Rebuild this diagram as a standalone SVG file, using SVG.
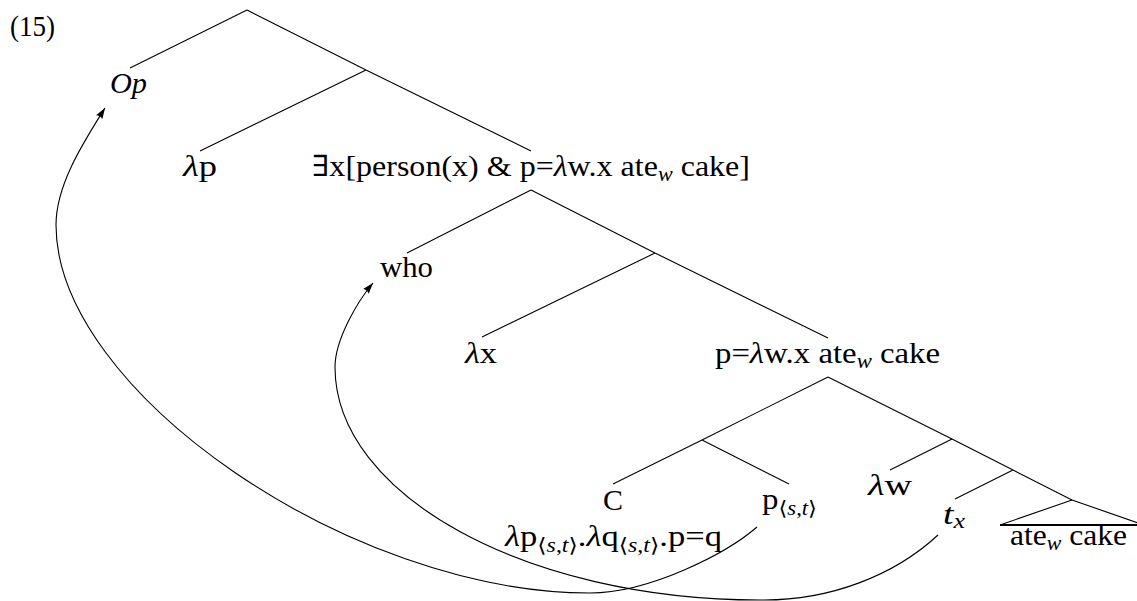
<svg xmlns="http://www.w3.org/2000/svg" width="1137" height="601" viewBox="0 0 1137 601">
  <defs>
    <style>
      text { font-family: "Liberation Serif", "DejaVu Serif", serif; font-size: 29px; fill: #000; }
      .it { font-style: italic; }
      .sub { font-size: 20px; }
      .edge { fill: none; stroke: #000; stroke-width: 1.1; }
      .base { fill: none; stroke: #000; stroke-width: 2; }
      .move { fill: none; stroke: #000; stroke-width: 1.1; marker-end: url(#tip); }
    </style>
    <marker id="tip" markerUnits="userSpaceOnUse" viewBox="0 0 11 8" refX="11" refY="4" markerWidth="11" markerHeight="8" orient="auto">
      <path d="M0,0.3 L11,4 L0,7.7 Q2.2,4 0,0.3 z" fill="#000"/>
    </marker>
  </defs>

  <rect width="1137" height="601" fill="#fff"/>

  <!-- example number -->
  <text id="exnum" x="10" y="36" textLength="45" lengthAdjust="spacingAndGlyphs">(15)</text>

  <!-- tree branches, movement arrows -->
  <g id="connectors">
    <path class="edge" d="M247,10 L130,68 M247,10 L366,70 M366,70 L200,151 M366,70 L531,151"/>
    <path class="edge" d="M531,190 L407,253 M531,190 L655,253 M655,253 L482,337 M655,253 L828,338"/>
    <path class="edge" d="M828,377 L702,440 M828,377 L952,439 M702,440 L613,484 M702,440 L789,484"/>
    <path class="edge" d="M952,439 L890,470 M952,439 L1013,470 M1013,470 L955,499 M1013,470 L1072,500"/>
    <!-- roof over "ate cake" -->
    <path class="edge" d="M1072,500 L1000,525 M1072,500 L1144,525"/>
    <path class="base" d="M1000,525 L1144,525"/>
    <!-- p binds to Op -->
    <path class="move" d="M757,527 C727,553 650,593 590,593 C350,593 56,391 56,225 C56,185 83,143 105,108"/>
    <!-- t_x binds to who -->
    <path class="move" d="M938,535 C895,575 830,601 760,600 C526,600 335,495 335,367 C335,340 357,302 373,283"/>
  </g>

  <g id="node-op"><text class="it" x="110" y="93" textLength="37" lengthAdjust="spacingAndGlyphs">Op</text></g>
  <g id="node-lambda-p"><text x="183" y="176" textLength="34" lengthAdjust="spacingAndGlyphs"><tspan class="it">λ</tspan>p</text></g>
  <g id="node-exists"><text x="312" y="176" textLength="438" lengthAdjust="spacingAndGlyphs">∃x[person(x) &amp; p=<tspan class="it">λ</tspan>w.x ate<tspan class="sub it" dy="5">w</tspan><tspan dy="-5"> cake]</tspan></text></g>
  <g id="node-who"><text x="380" y="277" textLength="53" lengthAdjust="spacingAndGlyphs">who</text></g>
  <g id="node-lambda-x"><text x="465" y="363" textLength="32" lengthAdjust="spacingAndGlyphs"><tspan class="it">λ</tspan>x</text></g>
  <g id="node-prop"><text x="715" y="363" textLength="225" lengthAdjust="spacingAndGlyphs">p=<tspan class="it">λ</tspan>w.x ate<tspan class="sub it" dy="5">w</tspan><tspan dy="-5"> cake</tspan></text></g>
  <g id="node-c">
    <text x="603" y="510" textLength="20" lengthAdjust="spacingAndGlyphs">C</text>
    <text x="505" y="546" textLength="217" lengthAdjust="spacingAndGlyphs"><tspan class="it">λ</tspan>p<tspan class="sub" dy="6">⟨<tspan class="it">s</tspan>,<tspan class="it">t</tspan>⟩</tspan><tspan dy="-6">.</tspan><tspan class="it">λ</tspan>q<tspan class="sub" dy="6">⟨<tspan class="it">s</tspan>,<tspan class="it">t</tspan>⟩</tspan><tspan dy="-6">.p=q</tspan></text>
  </g>
  <g id="node-p-st"><text x="762" y="509" textLength="55" lengthAdjust="spacingAndGlyphs">p<tspan class="sub" dy="6">⟨<tspan class="it">s</tspan>,<tspan class="it">t</tspan>⟩</tspan></text></g>
  <g id="node-lambda-w"><text x="868" y="495" textLength="44" lengthAdjust="spacingAndGlyphs"><tspan class="it">λ</tspan>w</text></g>
  <g id="node-trace"><text x="943" y="524" textLength="22" lengthAdjust="spacingAndGlyphs"><tspan class="it">t</tspan><tspan class="sub it" dy="4">x</tspan></text></g>
  <g id="node-vp"><text x="1010" y="545" textLength="117" lengthAdjust="spacingAndGlyphs">ate<tspan class="sub it" dy="5">w</tspan><tspan dy="-5"> cake</tspan></text></g>
</svg>
